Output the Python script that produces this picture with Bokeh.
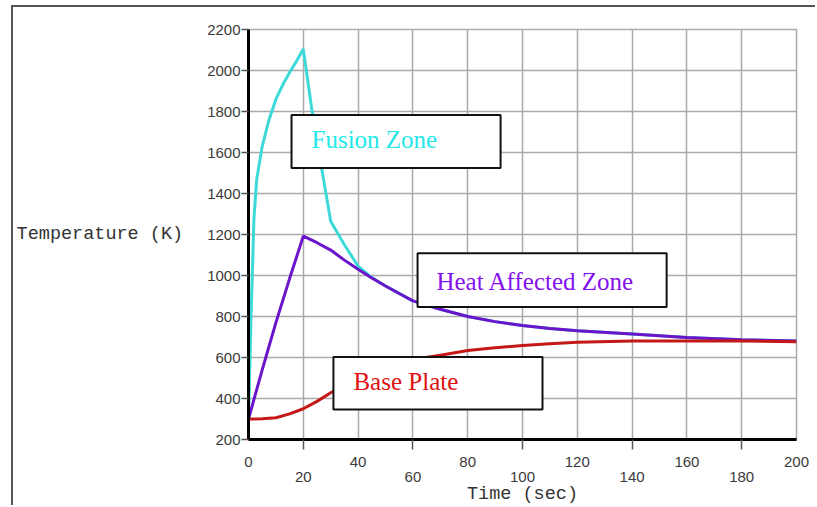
from bokeh.plotting import figure
from bokeh.models import FixedTicker, Range1d, Label
from bokeh.embed import file_html
from bokeh.resources import INLINE

# ---- data ----
fusion_time = [0, 1, 2, 3, 5, 7.5, 10, 12.5, 15, 17.5, 20, 23, 27, 30, 35, 40, 45, 50,
               60, 70, 80, 90, 100, 110, 120, 140, 160, 180, 200]
fusion_temp = [300, 830, 1280, 1470, 1630, 1760, 1860, 1930, 1990, 2045, 2105, 1820, 1500, 1265, 1150, 1045, 990, 949,
               876, 835, 800, 775, 756, 741, 730, 715, 697, 686, 680]

haz_time = [0, 5, 10, 15, 20, 25, 30, 35, 40, 45, 50, 55, 60, 70, 80, 90, 100, 110, 120, 140, 160, 180, 200]
haz_temp = [300, 540, 770, 985, 1192, 1160, 1124, 1075, 1030, 988, 949, 912, 876, 835, 800, 775, 756, 741, 730, 715, 697, 686, 680]

base_time = [0, 5, 10, 15, 20, 25, 30, 35, 40, 50, 60, 70, 80, 90, 100, 110, 120, 140, 160, 180, 200]
base_temp = [300, 301, 306, 325, 350, 386, 428, 465, 498, 552, 590, 611, 634, 648, 658, 667, 674, 680, 681, 680, 677]

x_upper_ticks = [0, 40, 80, 120, 160, 200]     # labels on the upper row
x_lower_ticks = [20, 60, 100, 140, 180]        # labels on the lower row
y_ticks = [200, 400, 600, 800, 1000, 1200, 1400, 1600, 1800, 2000, 2200]

# ---- figure ----
p = figure(width=804, height=500, x_range=Range1d(0, 200), y_range=Range1d(200, 2200),
           output_backend="svg", toolbar_location=None,
           min_border_left=235, min_border_right=21, min_border_top=22, min_border_bottom=66)
p.styles = {"margin-left": "11px", "margin-top": "5px",
            "border-left": "2px solid #555555", "border-top": "2px solid #555555"}
p.background_fill_color = "white"
p.border_fill_color = "white"
p.outline_line_color = "#aaaaaa"
p.outline_line_width = 1.5

tick_font = "Liberation Sans"
tick_size = "15px"
tick_color = "#3a3a3a"
title_font = "Liberation Mono"
title_size = "18.5px"
title_color = "#333333"

# grids
all_x_ticks = sorted(x_upper_ticks + x_lower_ticks)
p.xgrid.ticker = FixedTicker(ticks=all_x_ticks)
p.ygrid.ticker = FixedTicker(ticks=y_ticks)
for g in (p.xgrid, p.ygrid):
    g.grid_line_color = "#aaaaaa"
    g.grid_line_width = 1.5

# x axis: staggered labels in two rows
xa = p.xaxis[0]
xa.ticker = FixedTicker(ticks=all_x_ticks, minor_ticks=x_lower_ticks)
xa.major_label_overrides = {t: "\n" + str(t) for t in x_lower_ticks}
xa.axis_line_color = "black"
xa.axis_line_width = 3
xa.major_tick_out = 0
xa.major_tick_in = 0
xa.minor_tick_out = 10
xa.minor_tick_in = 0
xa.minor_tick_line_color = "#555555"
xa.minor_tick_line_width = 1.5
xa.major_label_standoff = 3
xa.major_label_text_font = tick_font
xa.major_label_text_font_size = tick_size
xa.major_label_text_color = tick_color
xa.major_label_text_line_height = 0.9
xa.axis_label = "Time (sec)"
xa.axis_label_standoff = -4
xa.axis_label_text_font = title_font
xa.axis_label_text_font_size = title_size
xa.axis_label_text_font_style = "normal"
xa.axis_label_text_color = title_color
xa.axis_label_text_line_height = 0.6

# y axis
ya = p.yaxis[0]
ya.ticker = FixedTicker(ticks=y_ticks, minor_ticks=[])
ya.axis_line_color = "black"
ya.axis_line_width = 3
ya.major_tick_out = 7
ya.major_tick_in = 0
ya.major_tick_line_color = "#555555"
ya.major_tick_line_width = 1.5
ya.minor_tick_line_color = None
ya.major_label_standoff = 1
ya.major_label_text_font = tick_font
ya.major_label_text_font_size = tick_size
ya.major_label_text_color = tick_color
ya.axis_label = "Temperature (K)"
ya.axis_label_orientation = "horizontal"
ya.axis_label_standoff = 21
ya.axis_label_text_font = title_font
ya.axis_label_text_font_size = title_size
ya.axis_label_text_font_style = "normal"
ya.axis_label_text_color = title_color

# curves
p.line(fusion_time, fusion_temp, line_color="#3dd9d9", line_width=3)
p.line(haz_time, haz_temp, line_color="#6a14cc", line_width=3)
p.line(base_time, base_temp, line_color="#c41818", line_width=3)

# label boxes (annotation layout, in data coordinates)
p.quad(left=[15.7, 61.7, 31.0], right=[92.0, 152.6, 107.3],
       top=[1783, 1108, 603], bottom=[1525, 846, 346],
       fill_color="white", line_color="#111111", line_width=2)

label_font = "Liberation Serif"
p.add_layout(Label(x=23.0, y=1661, text="Fusion Zone", text_font=label_font,
                   text_font_size="25px", text_color="#22e8e8", text_baseline="middle"))
p.add_layout(Label(x=68.6, y=972, text="Heat Affected  Zone", text_font=label_font,
                   text_font_size="25px", text_color="#8410f0", text_baseline="middle"))
p.add_layout(Label(x=38.3, y=482, text="Base Plate", text_font=label_font,
                   text_font_size="25px", text_color="#e01010", text_baseline="middle"))

open("out.html", "w").write(file_html(p, INLINE))
